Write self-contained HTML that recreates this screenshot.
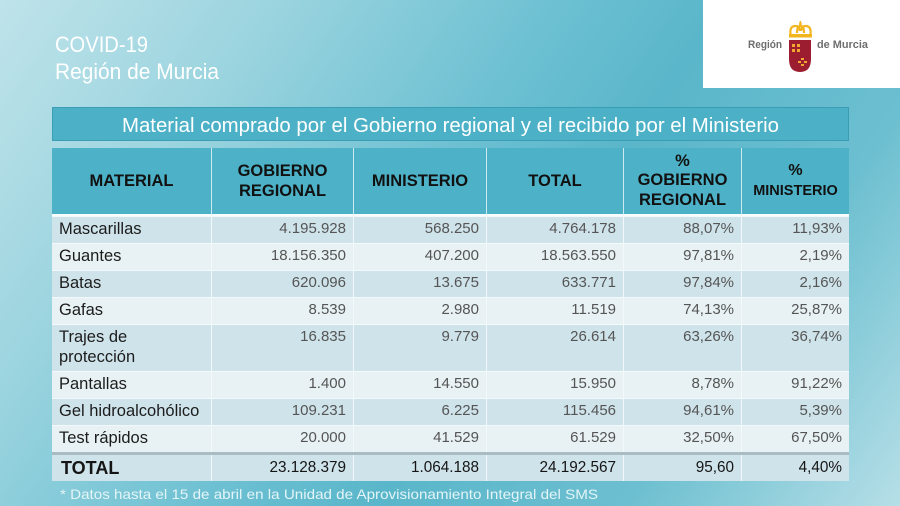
<!DOCTYPE html>
<html><head><meta charset="utf-8">
<style>
*{margin:0;padding:0}
html,body{width:900px;height:506px;overflow:hidden}
body{position:relative;font-family:"Liberation Sans",Arial,sans-serif;
background:linear-gradient(125deg,#bfe3ea 0%,#9bd4df 22%,#6cc0d2 45%,#5ab6ca 58%,#6cbfd0 78%,#b6dfe7 100%);}
.logo{position:absolute;left:703px;top:0;width:197px;height:88px;background:#fff}
.tbox{position:absolute;left:52px;top:107px;width:797px;height:34px;box-sizing:border-box;background:#4cb1c7;border:1px solid #3a9db3}
.hdr{position:absolute;left:52px;top:148px;width:797px;height:69px;box-sizing:border-box;display:flex;background:#4db2c7;border-bottom:3px solid #fafdfe}
.hdr .c{display:flex;align-items:center;justify-content:center;text-align:center;font-weight:bold;font-size:16.5px;line-height:20px;color:#111;padding:0;border-left:1px solid #cdeaf0}
.row{position:absolute;left:52px;width:797px;display:flex;box-sizing:border-box;border-top:1px solid #f3f9fb}
.dark{background:#cfe3ea}
.light{background:#e8f2f5}
.c{box-sizing:border-box;height:100%;border-left:1px solid #f3f9fb;padding:2px 7px 0;line-height:20px;font-size:15px;color:#555;text-align:right}
.c1{width:159px;text-align:left;color:#1c1c1c;font-size:16.5px;border-left:none}
.c2{width:142px}.c3{width:133px}.c4{width:137px}.c5{width:118px}.c6{width:108px}
.tot{border-top:3px solid #a9bcc3}
.tot .c{padding-top:0;line-height:26px;color:#151515;font-size:15.3px}
.tot .c1{font-weight:bold;font-size:18px;padding-left:9px}
</style></head><body>
<div class="logo"></div>
<svg style="position:absolute;left:0;top:0" width="900" height="506">
<text x="55" y="52" font-family="Liberation Sans, sans-serif" font-size="22" fill="#ffffff" textLength="93" lengthAdjust="spacingAndGlyphs">COVID-19</text>
<text x="55" y="79" font-family="Liberation Sans, sans-serif" font-size="22" fill="#ffffff" textLength="164" lengthAdjust="spacingAndGlyphs">Región de Murcia</text>
<text x="60" y="499" font-family="Liberation Sans, sans-serif" font-size="14" fill="#e4f4f7" textLength="538" lengthAdjust="spacingAndGlyphs">* Datos hasta el 15 de abril en la Unidad de Aprovisionamiento Integral del SMS</text>
<text x="748" y="48" font-family="Liberation Sans, sans-serif" font-size="11" font-weight="bold" fill="#6e6e6e" textLength="34" lengthAdjust="spacingAndGlyphs">Región</text>
<text x="817" y="48" font-family="Liberation Sans, sans-serif" font-size="11" font-weight="bold" fill="#6e6e6e" textLength="51" lengthAdjust="spacingAndGlyphs">de Murcia</text>
<g fill="none" stroke="#f2b51e" stroke-width="2.2">
<path d="M790.5,34 q-1,-8 5,-8 q4,0 4.5,5"/>
<path d="M810.5,34 q1,-8 -5,-8 q-4,0 -4.5,5"/>
<path d="M797,33 q0,-7 3.5,-7 q3.5,0 3.5,7"/>
</g>
<rect x="799.6" y="21" width="1.6" height="5" fill="#f2b51e"/>
<circle cx="800.4" cy="24" r="1.4" fill="#f2b51e"/>
<rect x="789" y="34" width="23" height="3.5" fill="#f2b51e"/>
<path d="M789,40 h22 v19 q0,13 -11,13 q-11,0 -11,-13 z" fill="#9c1c30"/>
<g fill="#f0a830">
<rect x="792" y="44" width="3" height="3"/><rect x="797" y="44" width="3" height="3"/>
<rect x="792" y="49" width="3" height="3"/><rect x="797" y="49" width="3" height="3"/>
<rect x="801" y="58" width="3" height="2"/><rect x="798" y="61" width="3" height="2"/><rect x="804" y="61" width="3" height="2"/><rect x="801" y="64" width="3" height="2"/>
</g>
</svg>
<div class="tbox"></div>
<svg style="position:absolute;left:0;top:0" width="900" height="150">
<text x="122" y="132" font-family="Liberation Sans, sans-serif" font-size="20" fill="#ffffff" textLength="657" lengthAdjust="spacingAndGlyphs">Material comprado por el Gobierno regional y el recibido por el Ministerio</text>
</svg>
<div class="hdr">
<div class="c c1" style="text-align:center;border-left:none">MATERIAL</div>
<div class="c c2">GOBIERNO<br>REGIONAL</div>
<div class="c c3">MINISTERIO</div>
<div class="c c4">TOTAL</div>
<div class="c c5" style="line-height:19.5px">%<br>GOBIERNO<br>REGIONAL</div>
<div class="c c6" style="font-size:16px"><span>%<br><span style="font-size:14.5px">MINISTERIO</span></span></div>
</div>
<div class="row dark" style="top:216px;height:27px"><div class="c c1">Mascarillas</div><div class="c c2">4.195.928</div><div class="c c3">568.250</div><div class="c c4">4.764.178</div><div class="c c5">88,07%</div><div class="c c6">11,93%</div></div>
<div class="row light" style="top:243px;height:27px"><div class="c c1">Guantes</div><div class="c c2">18.156.350</div><div class="c c3">407.200</div><div class="c c4">18.563.550</div><div class="c c5">97,81%</div><div class="c c6">2,19%</div></div>
<div class="row dark" style="top:270px;height:27px"><div class="c c1">Batas</div><div class="c c2">620.096</div><div class="c c3">13.675</div><div class="c c4">633.771</div><div class="c c5">97,84%</div><div class="c c6">2,16%</div></div>
<div class="row light" style="top:297px;height:27px"><div class="c c1">Gafas</div><div class="c c2">8.539</div><div class="c c3">2.980</div><div class="c c4">11.519</div><div class="c c5">74,13%</div><div class="c c6">25,87%</div></div>
<div class="row dark" style="top:324px;height:47px"><div class="c c1">Trajes de<br>protección</div><div class="c c2">16.835</div><div class="c c3">9.779</div><div class="c c4">26.614</div><div class="c c5">63,26%</div><div class="c c6">36,74%</div></div>
<div class="row light" style="top:371px;height:27px"><div class="c c1">Pantallas</div><div class="c c2">1.400</div><div class="c c3">14.550</div><div class="c c4">15.950</div><div class="c c5">8,78%</div><div class="c c6">91,22%</div></div>
<div class="row dark" style="top:398px;height:27px"><div class="c c1">Gel hidroalcohólico</div><div class="c c2">109.231</div><div class="c c3">6.225</div><div class="c c4">115.456</div><div class="c c5">94,61%</div><div class="c c6">5,39%</div></div>
<div class="row light" style="top:425px;height:27px"><div class="c c1">Test rápidos</div><div class="c c2">20.000</div><div class="c c3">41.529</div><div class="c c4">61.529</div><div class="c c5">32,50%</div><div class="c c6">67,50%</div></div>
<div class="row dark tot" style="top:452px;height:29px"><div class="c c1">TOTAL</div><div class="c c2">23.128.379</div><div class="c c3">1.064.188</div><div class="c c4">24.192.567</div><div class="c c5">95,60</div><div class="c c6">4,40%</div></div>
</body></html>
